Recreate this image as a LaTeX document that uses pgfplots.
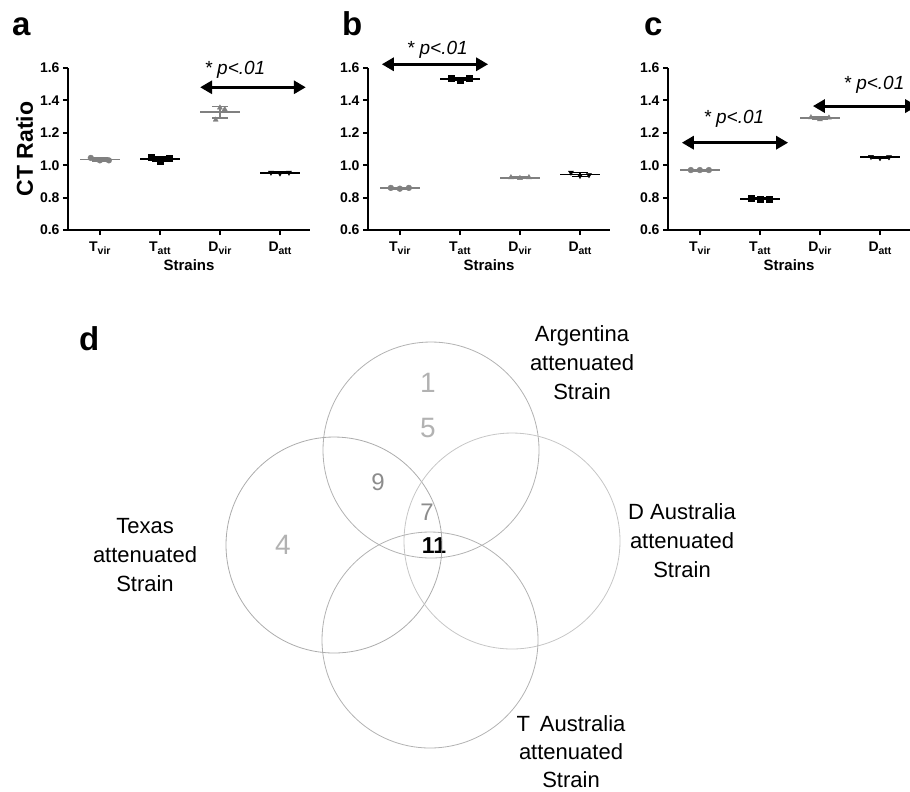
\documentclass[border=0pt]{standalone}
\usepackage{pgfplots}
\pgfplotsset{compat=1.18}
\usepackage{fontspec}
\setmainfont{Liberation Sans}
\usetikzlibrary{arrows.meta}
\definecolor{vgrey}{RGB}{128,128,128}

\newcommand\sub[1]{\raisebox{-0.45ex}{\fontsize{10.5}{10}\selectfont #1}}

\tikzset{
  sig/.style={line width=3pt, {Triangle[length=12pt,width=13pt]}-{Triangle[length=12pt,width=13pt]}},
  sigtext/.style={font=\fontsize{19}{19}\selectfont\itshape},
}
\pgfplotsset{
  ctpanel/.style={
    scale only axis, width=242pt, height=162pt,
    xmin=-0.53, xmax=3.5, ymin=0.6, ymax=1.6,
    axis lines=left, axis line style={line width=2.2pt, -},
    xtick={0,1,2,3},
    xticklabels={T\sub{vir}, T\sub{att}, D\sub{vir}, D\sub{att}},
    ytick={0.6,0.8,1.0,1.2,1.4,1.6},
    tick style={line width=2pt, black}, major tick length=5pt, tick align=outside,
    tick label style={font=\fontsize{14}{15}\selectfont\bfseries},
    xticklabel style={yshift=-3pt},
    yticklabel style={/pgf/number format/.cd, fixed, fixed zerofill, precision=1, assume math mode=true},
    xlabel={Strains},
    xlabel style={font=\fontsize{15}{15}\selectfont\bfseries, yshift=2pt},
    clip=false,
  },
  meanline/.style={only marks, mark=-, mark size=20pt, #1, mark options={line width=1.8pt},
    error bars/.cd, y dir=both, y explicit, error mark=|,
    error mark options={mark size=8pt, line width=1.6pt, #1},
    error bar style={line width=1.6pt, #1}},
  pts/.style={only marks, mark size=2.9pt},
}

\begin{document}
\begin{tikzpicture}
\useasboundingbox (0,0) rectangle (910pt,-792pt);

% panel labels
\node[anchor=base west, font=\fontsize{33}{33}\selectfont\bfseries, inner sep=0] at (12pt,-36pt) {a};
\node[anchor=base west, font=\fontsize{33}{33}\selectfont\bfseries, inner sep=0] at (342pt,-36pt) {b};
\node[anchor=base west, font=\fontsize{33}{33}\selectfont\bfseries, inner sep=0] at (644pt,-36pt) {c};
\node[anchor=base west, font=\fontsize{33}{33}\selectfont\bfseries, inner sep=0] at (79pt,-350pt) {d};

% ---- a
\begin{axis}[ctpanel, at={(68pt,-230pt)}, anchor=south west,
  ylabel={CT Ratio}, ylabel style={font=\fontsize{23}{23}\selectfont\bfseries}]
\addplot[meanline=vgrey] coordinates {(0,1.035) +- (0,0.008) (2,1.327) +- (0,0.035)};
\addplot[meanline=black] coordinates {(1,1.038) +- (0,0.012) (3,0.953) +- (0,0.004)};
\addplot[pts, mark=*, vgrey] coordinates {(-0.15,1.045) (0,1.03) (0.15,1.03)};
\addplot[pts, mark=square*, black] coordinates {(0.85,1.05) (1,1.022) (1.15,1.045)};
\addplot[pts, mark=triangle*, vgrey] coordinates {(1.93,1.28) (2.0,1.355) (2.08,1.345)};
\addplot[pts, mark=triangle*, black, mark options={rotate=180}] coordinates {(2.85,0.955) (3,0.95) (3.15,0.955)};
\draw[sig] (axis cs:1.67,1.481) -- (axis cs:3.43,1.481);
\node[sigtext] at (axis cs:2.25,1.588) {* p<.01};
\end{axis}

% ---- b
\begin{axis}[ctpanel, at={(368pt,-230pt)}, anchor=south west]
\addplot[meanline=vgrey] coordinates {(0,0.858) +- (0,0.004) (2,0.923) +- (0,0.004)};
\addplot[meanline=black] coordinates {(1,1.532) +- (0,0.006) (3,0.942) +- (0,0.012)};
\addplot[pts, mark=*, vgrey] coordinates {(-0.15,0.86) (0,0.855) (0.15,0.86)};
\addplot[pts, mark=square*, black] coordinates {(0.85,1.538) (1,1.525) (1.15,1.535)};
\addplot[pts, mark=triangle*, vgrey] coordinates {(1.85,0.925) (2,0.92) (2.15,0.925)};
\addplot[pts, mark=triangle*, black, mark options={rotate=180}] coordinates {(2.85,0.955) (3,0.935) (3.15,0.94)};
\draw[sig] (axis cs:-0.3,1.623) -- (axis cs:1.47,1.623);
\node[sigtext] at (axis cs:0.625,1.711) {* p<.01};
\end{axis}

% ---- c
\begin{axis}[ctpanel, at={(668pt,-230pt)}, anchor=south west]
\addplot[meanline=vgrey] coordinates {(0,0.969) +- (0,0.003) (2,1.29) +- (0,0.006)};
\addplot[meanline=black] coordinates {(1,0.792) +- (0,0.004) (3,1.049) +- (0,0.004)};
\addplot[pts, mark=*, vgrey] coordinates {(-0.15,0.97) (0,0.97) (0.15,0.97)};
\addplot[pts, mark=square*, black] coordinates {(0.85,0.797) (1,0.79) (1.15,0.79)};
\addplot[pts, mark=triangle*, vgrey] coordinates {(1.85,1.295) (2,1.282) (2.15,1.293)};
\addplot[pts, mark=triangle*, black, mark options={rotate=180}] coordinates {(2.85,1.052) (3,1.045) (3.15,1.05)};
\draw[sig] (axis cs:-0.3,1.139) -- (axis cs:1.47,1.139);
\node[sigtext] at (axis cs:0.567,1.289) {* p<.01};
\draw[sig] (axis cs:1.883,1.365) -- (axis cs:3.62,1.365);
\node[sigtext] at (axis cs:2.9,1.495) {* p<.01};
\end{axis}

% ---- d : Venn diagram, pixel-sized axis
\begin{axis}[at={(0pt,-792pt)}, anchor=south west, scale only axis,
  width=910pt, height=792pt, xmin=0, xmax=910, ymin=0, ymax=792,
  y dir=reverse, hide axis, clip=false]
\addplot[only marks, mark=o, mark size=108pt, mark options={draw=gray!60, line width=0.8pt}] coordinates {(431,450)};
\addplot[only marks, mark=o, mark size=108pt, mark options={draw=gray!65, line width=0.8pt}] coordinates {(334,545)};
\addplot[only marks, mark=o, mark size=108pt, mark options={draw=gray!45, line width=0.8pt}] coordinates {(512,541)};
\addplot[only marks, mark=o, mark size=108pt, mark options={draw=gray!60, line width=0.8pt}] coordinates {(430,640)};
\node[text=gray!60, font=\fontsize{28}{28}\selectfont] at (axis cs:428,383) {1};
\node[text=gray!60, font=\fontsize{28}{28}\selectfont] at (axis cs:428,428) {5};
\node[text=gray!60, font=\fontsize{28}{28}\selectfont] at (axis cs:283,545) {4};
\node[text=gray!90, font=\fontsize{24}{24}\selectfont] at (axis cs:378,482) {9};
\node[text=gray!90, font=\fontsize{24}{24}\selectfont] at (axis cs:427,512) {7};
\node[text=black, font=\fontsize{23}{23}\selectfont\bfseries] at (axis cs:434,546) {11};
\node[align=center, font=\fontsize{22}{29}\selectfont] at (axis cs:582,363) {Argentina\\attenuated\\Strain};
\node[align=center, font=\fontsize{22}{29}\selectfont] at (axis cs:145,555) {Texas\\attenuated\\Strain};
\node[align=center, font=\fontsize{22}{29}\selectfont] at (axis cs:682,541) {D Australia\\attenuated\\Strain};
\node[align=center, font=\fontsize{22}{28}\selectfont] at (axis cs:571,752) {T\hspace{0.45em}Australia\\attenuated\\Strain};
\end{axis}
\end{tikzpicture}
\end{document}
